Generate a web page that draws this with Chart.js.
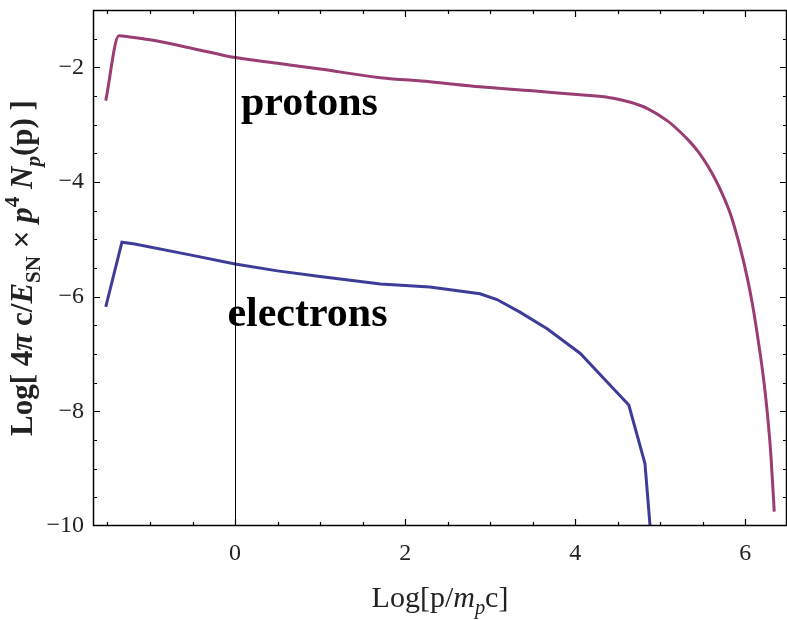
<!DOCTYPE html>
<html>
<head>
<meta charset="utf-8">
<script src="https://cdn.jsdelivr.net/npm/chart.js@4.4.1/dist/chart.umd.min.js"></script>
<style>
  html, body { margin: 0; padding: 0; background: #fff; }
  #chart { display: block; }
</style>
</head>
<body>
<canvas id="chart" width="787" height="620"></canvas>
<script>
// values: log10 of momentum vs log10 of spectrum
const protonX = [-1.52, -1.365, -1.24, -1.0, -0.5, 0, 0.5, 1.0, 1.71, 2.29, 2.88, 3.5, 4.06, 4.25, 4.45, 4.65, 4.85, 5.08, 5.2, 5.35, 5.45, 5.55, 5.65, 5.73, 5.83, 5.94, 6.02, 6.08, 6.13, 6.18, 6.22, 6.26, 6.30, 6.34];
const protonY = [-2.58, -1.45, -1.47, -1.52, -1.67, -1.83, -1.93, -2.03, -2.18, -2.25, -2.34, -2.41, -2.48, -2.50, -2.54, -2.61, -2.72, -2.93, -3.08, -3.30, -3.48, -3.70, -3.96, -4.21, -4.58, -5.15, -5.65, -6.1, -6.55, -7.05, -7.5, -8.05, -8.75, -9.75];
const electronX = [-1.52, -1.33, -1.18, -0.5, 0, 0.5, 1.0, 1.71, 2.29, 2.88, 3.08, 3.35, 3.67, 4.06, 4.35, 4.63, 4.82, 4.88];
const electronY = [-6.18, -5.05, -5.08, -5.28, -5.43, -5.55, -5.65, -5.78, -5.83, -5.95, -6.05, -6.27, -6.56, -6.99, -7.45, -7.89, -8.91, -10.0];

const xMajor = [0, 2, 4, 6];
const yMajor = [-10, -8, -6, -4, -2];
const xRange = [-1.67, 6.49];
const yRange = [-10, -1.0];

// label anchors (data coords, left edge / baseline)
const labels = [
  { text: 'protons', x: 0.07, y: -2.84 },
  { text: 'electrons', x: -0.09, y: -6.52 }
];

const SERIF = '"Liberation Serif", "Times New Roman", serif';
const pts = (xs, ys) => xs.map((x, i) => ({ x: x, y: ys[i] }));

function drawRich(ctx, segs, cx, cy, size) {
  let total = 0;
  const fontOf = s => {
    const sz = s.sub || s.sup ? size * 0.68 : size;
    return (s.italic ? 'italic ' : '') + (s.bold ? 'bold ' : '') + sz + 'px ' + SERIF;
  };
  segs.forEach(s => { ctx.font = fontOf(s); s.w = ctx.measureText(s.t).width; total += s.w; });
  let x = cx - total / 2;
  const base = cy + size * 0.33;
  ctx.textAlign = 'left';
  ctx.textBaseline = 'alphabetic';
  segs.forEach(s => {
    ctx.font = fontOf(s);
    let y = base;
    if (s.sub) y += size * 0.25;
    if (s.sup) y -= size * 0.42;
    ctx.fillText(s.t, x, y);
    x += s.w;
  });
}

const framePlugin = {
  id: 'frame',
  afterDatasetsDraw(chart) {
    const ctx = chart.ctx;
    const a = chart.chartArea;
    const xs = chart.scales.x, ys = chart.scales.y;
    ctx.save();
    ctx.strokeStyle = '#000';
    ctx.lineWidth = 1;
    // vertical line at x = 0
    const x0 = Math.round(xs.getPixelForValue(0)) + 0.5;
    ctx.beginPath();
    ctx.moveTo(x0, a.top);
    ctx.lineTo(x0, a.bottom);
    ctx.stroke();
    // frame
    ctx.lineWidth = 1.5;
    ctx.strokeRect(a.left + 0.5, a.top + 0.5, a.right - a.left - 1, a.bottom - a.top - 1);
    // inward ticks on all sides
    ctx.lineWidth = 1.2;
    ctx.beginPath();
    for (let v = -1.5; v <= 6.5; v += 0.5) {
      const px = Math.round(xs.getPixelForValue(v)) + 0.5;
      if (px <= a.left || px >= a.right) continue;
      const len = xMajor.includes(v) ? 7 : 4;
      ctx.moveTo(px, a.bottom); ctx.lineTo(px, a.bottom - len);
      ctx.moveTo(px, a.top); ctx.lineTo(px, a.top + len);
    }
    for (let v = -10; v <= -1; v += 0.5) {
      const py = Math.round(ys.getPixelForValue(v)) + 0.5;
      if (py < a.top || py > a.bottom) continue;
      const len = yMajor.includes(v) ? 7 : 4;
      ctx.moveTo(a.left, py); ctx.lineTo(a.left + len, py);
      ctx.moveTo(a.right, py); ctx.lineTo(a.right - len, py);
    }
    ctx.stroke();
    // curve labels
    ctx.fillStyle = '#000';
    ctx.font = 'bold 42px ' + SERIF;
    ctx.textAlign = 'left';
    ctx.textBaseline = 'alphabetic';
    labels.forEach(l => ctx.fillText(l.text, xs.getPixelForValue(l.x), ys.getPixelForValue(l.y)));
    ctx.restore();
  },
  afterDraw(chart) {
    const ctx = chart.ctx;
    const a = chart.chartArea;
    ctx.save();
    ctx.fillStyle = '#222';
    drawRich(ctx, [
      { t: 'Log[p/' }, { t: 'm', italic: true }, { t: 'p', italic: true, sub: true }, { t: 'c]' }
    ], (a.left + a.right) / 2, 597, 30);
    ctx.translate(22, (a.top + a.bottom) / 2);
    ctx.rotate(-Math.PI / 2);
    drawRich(ctx, [
      { t: 'Log[ 4', bold: true }, { t: 'π', bold: true, italic: true }, { t: ' c/', bold: true },
      { t: 'E', bold: true, italic: true }, { t: 'SN', bold: true, sub: true },
      { t: ' × ', bold: true }, { t: 'p', bold: true, italic: true }, { t: '4', bold: true, sup: true },
      { t: ' ', bold: true }, { t: 'N', bold: true, italic: true }, { t: 'p', bold: true, italic: true, sub: true },
      { t: '(p) ]', bold: true }
    ], 0, 0, 31);
    ctx.restore();
  }
};

new Chart(document.getElementById('chart'), {
  type: 'scatter',
  data: {
    datasets: [
      {
        label: 'protons',
        data: pts(protonX, protonY),
        showLine: true,
        borderColor: '#993d72',
        borderWidth: 3,
        pointRadius: 0,
        cubicInterpolationMode: 'monotone'
      },
      {
        label: 'electrons',
        data: pts(electronX, electronY),
        showLine: true,
        borderColor: '#3d3d99',
        borderWidth: 3,
        pointRadius: 0,
        tension: 0
      }
    ]
  },
  options: {
    responsive: false,
    animation: false,
    layout: { padding: { top: 10, right: 0, left: 0, bottom: 0 } },
    plugins: { legend: { display: false }, tooltip: { enabled: false } },
    scales: {
      x: {
        type: 'linear',
        min: xRange[0],
        max: xRange[1],
        grid: { display: false, drawTicks: false },
        border: { display: false },
        afterBuildTicks: s => { s.ticks = xMajor.map(v => ({ value: v })); },
        afterFit: s => { s.height = 94; s.paddingLeft = 0; s.paddingRight = 0; },
        ticks: {
          padding: 13,
          color: '#222',
          font: { family: SERIF, size: 24 },
          callback: v => String(v)
        }
      },
      y: {
        type: 'linear',
        min: yRange[0],
        max: yRange[1],
        grid: { display: false, drawTicks: false },
        border: { display: false },
        afterBuildTicks: s => { s.ticks = yMajor.map(v => ({ value: v })); },
        afterFit: s => { s.width = 93; s.paddingTop = 0; s.paddingBottom = 0; },
        ticks: {
          padding: 9,
          color: '#222',
          font: { family: SERIF, size: 24 },
          callback: v => String(v).replace('-', '\u2212')
        }
      }
    }
  },
  plugins: [framePlugin]
});
</script>
</body>
</html>
